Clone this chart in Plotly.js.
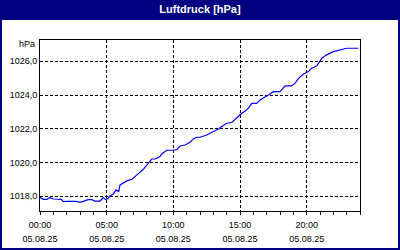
<!DOCTYPE html>
<html>
<head>
<meta charset="utf-8">
<script src="https://cdn.plot.ly/plotly-3.0.1.min.js"></script>
<style>
  html, body { margin: 0; padding: 0; background: #000080; }
  #chart { width: 400px; height: 250px; }
</style>
</head>
<body>
<div id="chart"></div>
<script>
// Data
const times = [
  "00:00","00:15","00:30","00:45","01:00","01:36","01:45","01:54","02:45","02:54",
  "03:06","03:24","03:36","03:54","04:06","04:30","04:45","04:54","05:06","05:15",
  "05:30","05:42","05:54","06:00","06:15","06:33","06:54","07:06","07:24","07:45",
  "08:06","08:23","08:38","09:00","09:08","09:23","09:30","10:00","10:15","10:30",
  "10:45","10:53","11:15","11:30","11:45","12:00","12:30","12:53","13:08","13:23",
  "13:38","14:00","14:23","14:38","14:53","15:08","15:23","15:38","15:53","16:15",
  "16:30","16:45","17:08","17:30","18:00","18:23","18:53","19:08","19:23","19:45",
  "20:08","20:23","20:45","21:08","21:30","22:00","22:30","23:00","23:53"
];
const pressure = [
  1017.94,1017.82,1017.82,1017.92,1017.84,1017.82,1017.68,1017.70,1017.70,1017.66,
  1017.66,1017.74,1017.80,1017.80,1017.72,1017.72,1017.92,1017.82,1017.86,1018.02,
  1018.14,1018.38,1018.28,1018.67,1018.77,1018.93,1019.01,1019.13,1019.36,1019.60,
  1019.92,1020.21,1020.21,1020.35,1020.51,1020.69,1020.73,1020.73,1020.76,1020.98,
  1021.04,1021.04,1021.20,1021.40,1021.50,1021.50,1021.63,1021.77,1021.89,1021.99,
  1022.13,1022.33,1022.37,1022.56,1022.76,1022.92,1023.06,1023.22,1023.51,1023.51,
  1023.71,1023.81,1024.00,1024.20,1024.20,1024.54,1024.54,1024.70,1024.99,1025.23,
  1025.39,1025.59,1025.72,1026.18,1026.38,1026.57,1026.67,1026.77,1026.77
];
const day = "2025-08-05";
const tickTimes = ["00:00","05:00","10:00","15:00","20:00"];
const tickDateLabel = "05.08.25";
const yTicks = [1018, 1020, 1022, 1024, 1026];
const chartTitle = "Luftdruck [hPa]";
const unitLabel = "hPa";

const xs = times.map(t => day + " " + t);
const tickVals = tickTimes.map(t => day + " " + t);
const xRange = [day + " 00:00", "2025-08-06 00:00"];

const fontFam = "Liberation Sans, Arial, sans-serif";

const trace = {
  x: xs, y: pressure, type: "scatter", mode: "lines",
  line: { color: "#0000ff", width: 1.2 },
  hoverinfo: "skip", showlegend: false
};
// carrier trace for the date-label axis (invisible)
const dateAxisTrace = {
  x: xs, y: pressure, type: "scatter", mode: "lines", xaxis: "x2",
  line: { color: "rgba(0,0,0,0)", width: 0 }, opacity: 0,
  hoverinfo: "skip", showlegend: false
};

const layout = {
  width: 400, height: 250,
  margin: { l: 40, r: 40, t: 40, b: 39, pad: 0 },
  paper_bgcolor: "#000080",
  plot_bgcolor: "#ffffff",
  separators: ",.",
  showlegend: false,
  font: { family: fontFam, size: 9, color: "#000000" },
  title: {
    text: "<b>" + chartTitle + "</b>",
    font: { family: fontFam, size: 11, color: "#ffffff" },
    x: 0.5, xanchor: "center", y: 0.962, yanchor: "middle", yref: "container"
  },
  xaxis: {
    type: "date", range: xRange,
    tickvals: tickVals, ticktext: tickTimes,
    showgrid: true, gridcolor: "#000000", gridwidth: 1, griddash: "3px,2px",
    showline: true, linecolor: "#000000", linewidth: 1, mirror: true,
    ticks: "outside", ticklen: 3, tickcolor: "#000000", tickwidth: 1,
    minor: { dtick: 3600000, ticks: "outside", ticklen: 3, tickcolor: "#000000", tickwidth: 1, showgrid: false },
    zeroline: false, fixedrange: true, ticklabelstandoff: 2,
    tickfont: { family: fontFam, size: 9, color: "#000000" }
  },
  xaxis2: {
    type: "date", range: xRange, overlaying: "x", anchor: "y", side: "bottom",
    tickvals: tickVals, ticktext: tickTimes.map(() => tickDateLabel),
    showgrid: false, showline: false, ticks: "", zeroline: false,
    ticklabelstandoff: 21, fixedrange: true,
    tickfont: { family: fontFam, size: 9, color: "#000000" }
  },
  yaxis: {
    range: [1017.13, 1027.26],
    tickvals: yTicks, tickformat: ".1f",
    showgrid: true, gridcolor: "#000000", gridwidth: 1, griddash: "3px,2px",
    showline: true, linecolor: "#000000", linewidth: 1, mirror: true,
    ticks: "", zeroline: false, fixedrange: true,
    tickfont: { family: fontFam, size: 9, color: "#000000" }
  },
  shapes: [{
    type: "rect", xref: "paper", yref: "paper", layer: "below",
    x0: -0.11875, x1: 1.11875, y0: -0.21637, y1: 1.11696,
    fillcolor: "#ffffff", line: { width: 0 }
  }],
  annotations: [{
    text: unitLabel, xref: "paper", yref: "paper",
    x: -0.009, xanchor: "right", y: 0.977, yanchor: "middle",
    showarrow: false, font: { family: fontFam, size: 9, color: "#000000" }
  }]
};

Plotly.newPlot("chart", [trace, dateAxisTrace], layout, { staticPlot: true, displayModeBar: false });
</script>
</body>
</html>
